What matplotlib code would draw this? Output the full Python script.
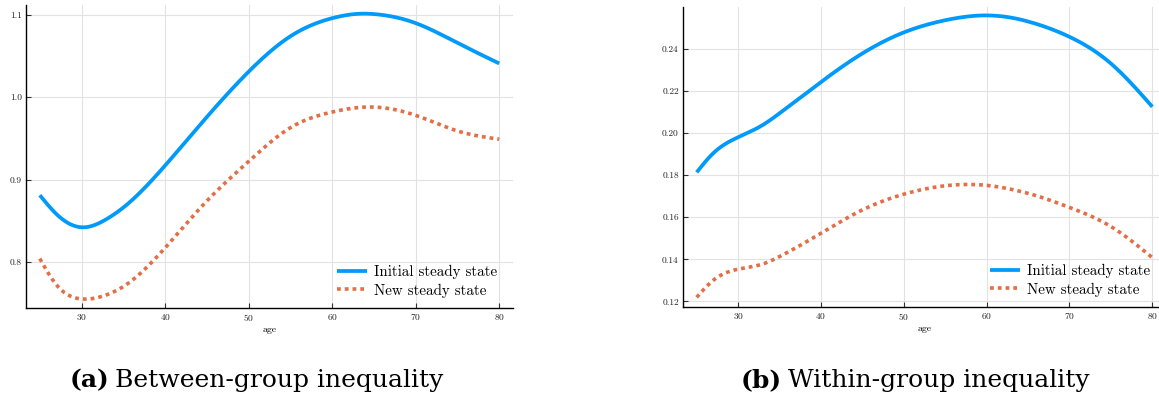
import numpy as np
import matplotlib
matplotlib.use("Agg")
import matplotlib.pyplot as plt

# data (age vs. inequality)
age = [25, 27, 30, 33, 35, 40, 45, 50, 55, 60, 64, 65, 70, 75, 80]

between_init = [0.881, 0.858, 0.842, 0.852, 0.866, 0.917, 0.976, 1.031, 1.074, 1.096, 1.1015, 1.101, 1.090, 1.066, 1.041]
between_new = [0.804, 0.772, 0.755, 0.760, 0.770, 0.817, 0.874, 0.922, 0.963, 0.982, 0.988, 0.988, 0.978, 0.959, 0.949]

within_init = [0.1814, 0.1905, 0.1981, 0.2040, 0.2095, 0.2244, 0.2380, 0.2480, 0.2538, 0.2561, 0.2542, 0.2532, 0.2459, 0.2332, 0.2126]
within_new = [0.1219, 0.1300, 0.1353, 0.1378, 0.1413, 0.1524, 0.1635, 0.1710, 0.1750, 0.1752, 0.1724, 0.1714, 0.1647, 0.1556, 0.1408]

blue = "#009AFA"
red = "#E36F47"

plt.rcParams["font.family"] = "cmr10"
plt.rcParams["axes.formatter.use_mathtext"] = True
plt.rcParams["mathtext.fontset"] = "cm"


def smooth(x, y, n=300):
    # natural cubic spline through the read points, only for drawing
    xs = np.linspace(x[0], x[-1], n)
    x = np.asarray(x, float)
    y = np.asarray(y, float)
    h = np.diff(x)
    m = len(x)
    A = np.zeros((m, m))
    r = np.zeros(m)
    A[0, 0] = A[-1, -1] = 1
    for i in range(1, m - 1):
        A[i, i - 1] = h[i - 1]
        A[i, i] = 2 * (h[i - 1] + h[i])
        A[i, i + 1] = h[i]
        r[i] = 3 * ((y[i + 1] - y[i]) / h[i] - (y[i] - y[i - 1]) / h[i - 1])
    c = np.linalg.solve(A, r)
    b = (np.diff(y) / h) - h * (2 * c[:-1] + c[1:]) / 3
    d = np.diff(c) / (3 * h)
    idx = np.clip(np.searchsorted(x, xs) - 1, 0, m - 2)
    dx = xs - x[idx]
    ys = y[idx] + b[idx] * dx + c[idx] * dx ** 2 + d[idx] * dx ** 3
    return xs, ys


def panel(ax, y1, y2, ylim, yticks, yfmt):
    xs, ys = smooth(age, y1)
    ax.plot(xs, ys, color=blue, lw=2.7, solid_capstyle="butt", label="Initial steady state")
    xs, ys = smooth(age, y2)
    ax.plot(xs, ys, color=red, lw=2.6, ls=(0, (1.05, 1.1)), dash_capstyle="butt", label="New steady state")
    ax.set_xlim(23.35, 81.65)
    ax.set_ylim(*ylim)
    ax.set_xticks([30, 40, 50, 60, 70, 80])
    ax.set_yticks(yticks)
    ax.set_yticklabels([yfmt.format(v) for v in yticks])
    ax.grid(True, color="#e2e2e2", lw=0.8)
    ax.set_axisbelow(True)
    for s in ["top", "right"]:
        ax.spines[s].set_visible(False)
    for s in ["left", "bottom"]:
        ax.spines[s].set_linewidth(1.0)
    ax.tick_params(direction="in", length=3.5, width=0.8, labelsize=6.8, pad=3, colors="#333333", labelcolor="#222222")
    ax.set_xlabel("age", fontsize=7, labelpad=2)
    ax.legend(loc="lower right", bbox_to_anchor=(1.0, -0.018), frameon=False, fontsize=10.8,
              handlelength=2.0, handletextpad=0.45, labelspacing=0.28, borderaxespad=0.65)


fig = plt.figure(figsize=(11.59, 4.0), dpi=100)

ax1 = fig.add_axes([26 / 1159, 92 / 400, 487 / 1159, 303 / 400])
panel(ax1, between_init, between_new, (0.744, 1.112), [0.8, 0.9, 1.0, 1.1], "{:.1f}")

ax2 = fig.add_axes([683 / 1159, 93 / 400, 483 / 1159, 300 / 400])
panel(ax2, within_init, within_new, (0.1173, 0.2601), [0.12, 0.14, 0.16, 0.18, 0.20, 0.22, 0.24], "{:.2f}")

cap = dict(fontsize=18, family="DejaVu Serif", va="baseline")
fig.text(109 / 1159, 13 / 400, "(a)", ha="right", weight="bold", **cap)
fig.text(115 / 1159, 13 / 400, "Between-group inequality", ha="left", **cap)
fig.text(782 / 1159, 13 / 400, "(b)", ha="right", weight="bold", **cap)
fig.text(788 / 1159, 13 / 400, "Within-group inequality", ha="left", **cap)

fig.savefig("out.png", dpi=100)
